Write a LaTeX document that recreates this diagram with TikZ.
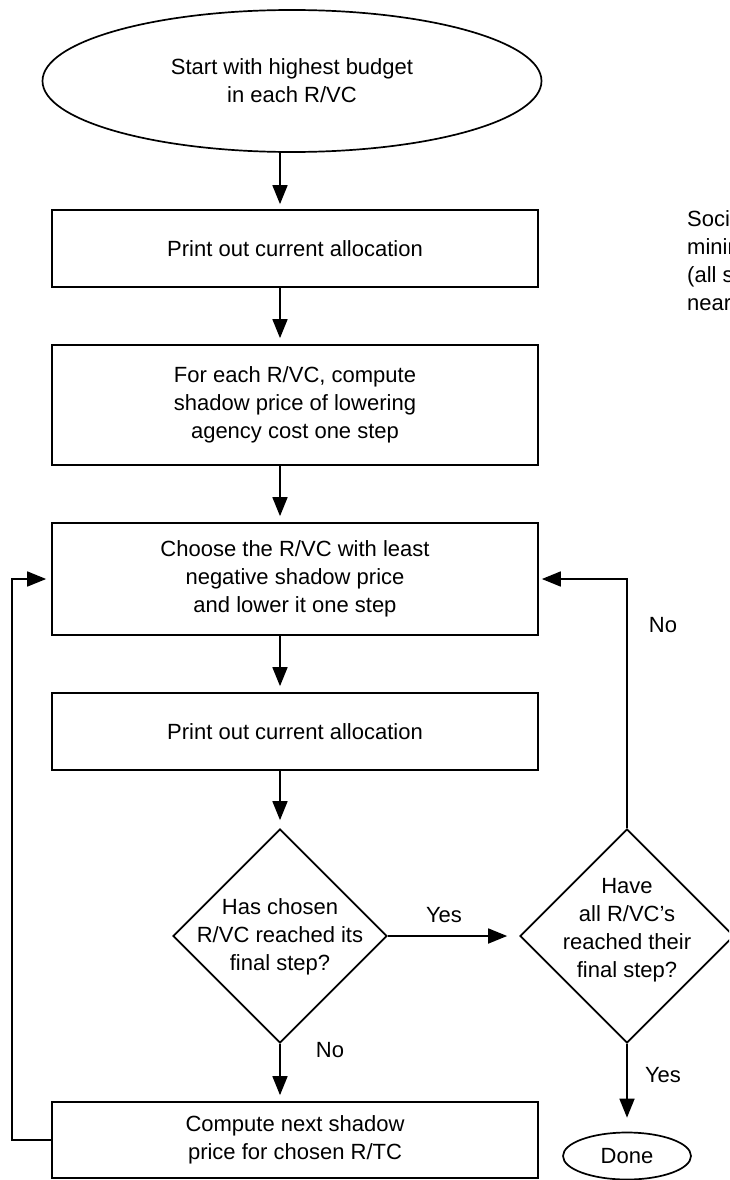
\documentclass[tikz,border=0pt]{standalone}
\usepackage{fontspec}
\setmainfont{Liberation Sans}
\usetikzlibrary{shapes.geometric,arrows.meta}
\begin{document}
\begin{tikzpicture}[x=1pt,y=-1pt,
  every node/.style={font=\fontsize{22}{28}\selectfont, inner sep=0pt},
  ln/.style={line width=1.7pt},
  flow/.style={ln, -{Triangle[length=19pt,width=15pt]}, shorten >=6pt},
  procbox/.style={draw, ln, minimum width=486pt, align=center},
  terminal/.style={draw, ln, ellipse, align=center},
  decision/.style={draw, ln, diamond, minimum width=214pt, minimum height=214pt},
  dtext/.style={align=center}
]
\useasboundingbox (0,0) rectangle (729,1180);
\clip (0,0) rectangle (729,1180);

% start terminal and process steps
\node[terminal, minimum width=499pt, minimum height=142pt] (start) at (292,81)
  {Start with highest budget\\in each R/VC};
\node[procbox, minimum height=77pt]  (b1) at (295,248.5) {Print out current allocation};
\node[procbox, minimum height=120pt] (b2) at (295,405)
  {For each R/VC, compute\\shadow price of lowering\\agency cost one step};
\node[procbox, minimum height=112pt] (b3) at (295,579)
  {Choose the R/VC with least\\negative shadow price\\and lower it one step};
\node[procbox, minimum height=77pt]  (b4) at (295,731.5) {Print out current allocation};
\node[procbox, minimum height=76pt]  (b5) at (295,1140)
  {Compute next shadow\\price for chosen R/TC};

% decisions
\node[decision] (d1) at (280,936) {};
\node[dtext] (d1t) at (280,937) {Has chosen\\R/VC reached its\\final step?};
\node[decision] (d2) at (627,936) {};
\node[dtext] (d2t) at (627,930) {Have\\all R/VC's\\reached their\\final step?};

\node[terminal, minimum width=128pt, minimum height=47pt] (done) at (627,1156) {Done};

% side note running off the right edge
\node[anchor=west, align=left] (note) at (687,261)
  {Social costs\\minimized\\(all steps\\nearest};

% connectors
\coordinate (col) at (280,0);
\coordinate (lx) at (12,860);
\draw[flow, shorten >=5pt] (start.south -| col) -- (b1.north -| col);
\draw[flow] (b1.south -| col) -- (b2.north -| col);
\draw[flow] (b2.south -| col) -- (b3.north -| col);
\draw[flow] (b3.south -| col) -- (b4.north -| col);
\draw[flow, shorten >=8pt] (b4.south -| col) -- (d1.north);
\draw[flow] (d1.south) -- (b5.north -| d1.south);
\draw[flow, shorten >=12pt] (d1.east) -- (d2.west);
\draw[flow, shorten >=14pt] (d2.south) -- (done.north);
\draw[flow, shorten >=3pt] (d2.north) |- (b3.east);
\draw[flow, shorten >=5pt] (b5.west) -| (lx) |- (b3.west);

% branch labels
\node (yes1) at (444,915) {Yes};
\node (no1) at (663,625) {No};
\node (no2) at (330,1050) {No};
\node (yes2) at (663,1075) {Yes};
\end{tikzpicture}
\end{document}
